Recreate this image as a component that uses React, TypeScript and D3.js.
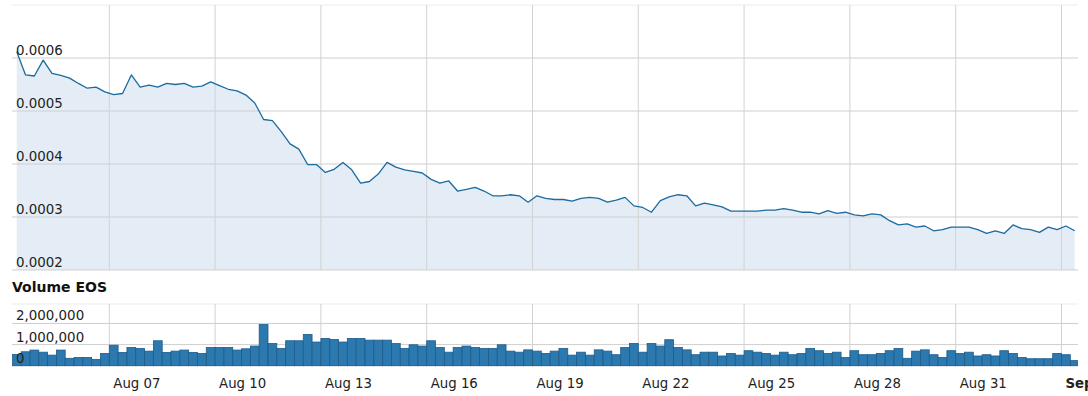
import React from "react";
import * as d3 from "d3";

// ---- data ----
const startTime = new Date(2018, 7, 4, 9, 0); // first 6-hour sample
const stepHours = 6;

const priceValues: number[] = [
  0.000612, 0.000568, 0.000566, 0.000596, 0.000571, 0.000567, 0.000562, 0.000552, 0.000543, 0.000545,
  0.000536, 0.000531, 0.000533, 0.000568, 0.000545, 0.000549, 0.000545, 0.000552, 0.00055, 0.000552,
  0.000545, 0.000547, 0.000555, 0.000548, 0.000541, 0.000538, 0.00053, 0.000515, 0.000484, 0.000482,
  0.000461, 0.000438, 0.000428, 0.000399, 0.000399, 0.000384, 0.00039, 0.000403, 0.000389, 0.000364,
  0.000367, 0.000381, 0.000403, 0.000394, 0.000389, 0.000386, 0.000383, 0.000371, 0.000364, 0.000368,
  0.000349, 0.000352, 0.000356, 0.000349, 0.00034, 0.00034, 0.000342, 0.00034, 0.000328, 0.00034,
  0.000335, 0.000333, 0.000333, 0.00033, 0.000335, 0.000337, 0.000335, 0.000328, 0.000332, 0.000337,
  0.000321, 0.000318, 0.000309, 0.000331, 0.000338, 0.000342, 0.00034, 0.000321, 0.000326, 0.000323,
  0.000319, 0.000311, 0.000311, 0.000311, 0.000311, 0.000313, 0.000313, 0.000316, 0.000313, 0.000309,
  0.000309, 0.000306, 0.000312, 0.000307, 0.000309, 0.000304, 0.000302, 0.000306, 0.000304, 0.000293,
  0.000285, 0.000287, 0.000281, 0.000283, 0.000274, 0.000276, 0.000281, 0.000281, 0.000281, 0.000276,
  0.000269, 0.000274, 0.000269, 0.000285, 0.000278, 0.000276, 0.000271, 0.000281, 0.000276, 0.000283,
  0.000274,
];

const volumeValues: number[] = [
  530000, 660000, 740000, 640000, 500000, 740000, 350000, 390000, 390000, 300000,
  580000, 970000, 630000, 860000, 820000, 690000, 1180000, 630000, 690000, 740000,
  630000, 580000, 860000, 860000, 860000, 740000, 800000, 930000, 1950000, 1050000,
  820000, 1180000, 1180000, 1480000, 1120000, 1290000, 1240000, 1120000, 1290000, 1290000,
  1210000, 1210000, 1210000, 1050000, 820000, 990000, 930000, 1180000, 860000, 640000,
  860000, 930000, 860000, 820000, 820000, 990000, 690000, 640000, 750000, 690000,
  580000, 690000, 820000, 500000, 640000, 500000, 750000, 690000, 520000, 860000,
  1050000, 640000, 1050000, 930000, 1230000, 860000, 750000, 520000, 640000, 640000,
  460000, 580000, 500000, 710000, 640000, 580000, 500000, 640000, 520000, 580000,
  820000, 710000, 580000, 640000, 390000, 710000, 520000, 520000, 580000, 710000,
  820000, 350000, 690000, 750000, 520000, 390000, 710000, 580000, 640000, 460000,
  520000, 460000, 710000, 580000, 390000, 330000, 330000, 330000, 580000, 520000,
  240000,
];

const priceTicks: number[] = [0.0002, 0.0003, 0.0004, 0.0005, 0.0006];
const volumeTicks: number[] = [0, 1000000, 2000000];
const dateTicks: Date[] = [
  new Date(2018, 7, 7), new Date(2018, 7, 10), new Date(2018, 7, 13), new Date(2018, 7, 16),
  new Date(2018, 7, 19), new Date(2018, 7, 22), new Date(2018, 7, 25), new Date(2018, 7, 28),
  new Date(2018, 7, 31), new Date(2018, 8, 3),
];
const volumeTitle = "Volume EOS";

// ---- layout ----
const W = 1088;
const H = 396;
const plotLeft = 12;
const plotRight = 1078;
const mainTop = 5;
const mainBottom = 270;
const volTop = 304;
const volBottom = 365.7;
const font = "'DejaVu Sans', Verdana, sans-serif";

export default function App() {
  const times = priceValues.map((_, i) => new Date(startTime.getTime() + i * stepHours * 3600000));

  const x = d3
    .scaleTime()
    .domain([new Date(2018, 7, 7), new Date(2018, 8, 3)])
    .range([109.3, 1061.5]);
  const y = d3.scaleLinear().domain([0.0002, 0.0007]).range([mainBottom, mainTop]);
  const yv = d3.scaleLinear().domain([0, 2920000]).range([volBottom, volTop]);

  const pts = priceValues.map((v, i) => ({ t: times[i], v }));
  const line = d3
    .line<{ t: Date; v: number }>()
    .x((d) => x(d.t))
    .y((d) => y(d.v));
  const area = d3
    .area<{ t: Date; v: number }>()
    .x((d) => x(d.t))
    .y0(mainBottom)
    .y1((d) => y(d.v));

  const fmtPrice = (v: number) => v.toFixed(4);
  const fmtVol = d3.format(",");
  const monthStart = (d: Date) => d.getMonth() !== 7;
  const fmtDate = d3.timeFormat("%b %d");
  const barW = 8.8;

  return (
    <div style={{ position: "absolute", left: 0, top: 0 }}>
      <svg width={W} height={H} style={{ display: "block", background: "#fff" }}>
        <defs>
          <clipPath id="plotClip">
            <rect x={plotLeft} y={0} width={plotRight - plotLeft} height={H} />
          </clipPath>
        </defs>

        {/* main chart */}
        <line x1={plotLeft} x2={plotRight} y1={mainTop} y2={mainTop} stroke="#ececec" strokeWidth={1} />
        <path d={area(pts) || ""} fill="#e4edf5" />
        {priceTicks.map((t) => (
          <line key={"pg" + t} x1={plotLeft} x2={plotRight} y1={y(t)} y2={y(t)} stroke="#cfcfcf" strokeWidth={1} />
        ))}
        {dateTicks.map((d, i) => (
          <line key={"vg" + i} x1={x(d)} x2={x(d)} y1={mainTop} y2={mainBottom} stroke="#d2d2d2" strokeWidth={1} />
        ))}
        <path d={line(pts) || ""} fill="none" stroke="#1b6aa0" strokeWidth={1.3} strokeLinejoin="round" />
        {priceTicks.map((t) => (
          <text key={"pl" + t} x={16} y={y(t) - 3} fontFamily={font} fontSize={13.4} fill="#222">
            {fmtPrice(t)}
          </text>
        ))}

        {/* volume chart */}
        <text x={12} y={292} fontFamily={font} fontSize={14} fontWeight="bold" fill="#111">
          {volumeTitle}
        </text>
        <line x1={plotLeft} x2={plotRight} y1={volTop} y2={volTop} stroke="#ececec" strokeWidth={1} />
        {volumeTicks.map((t) => (
          <line key={"vgl" + t} x1={plotLeft} x2={plotRight} y1={yv(t)} y2={yv(t)} stroke="#cfcfcf" strokeWidth={1} />
        ))}
        {dateTicks.map((d, i) => (
          <line key={"vvg" + i} x1={x(d)} x2={x(d)} y1={volTop} y2={volBottom} stroke="#d2d2d2" strokeWidth={1} />
        ))}
        <g clipPath="url(#plotClip)">
          {volumeValues.map((v, i) => (
            <rect
              key={"b" + i}
              x={x(times[i]) - barW / 2}
              y={yv(v)}
              width={barW}
              height={volBottom - yv(v)}
              fill="#2b79af"
              stroke="#1d5c8a"
              strokeWidth={0.8}
            />
          ))}
        </g>
        {volumeTicks.map((t) => (
          <text key={"vl" + t} x={16} y={yv(t) - 3} fontFamily={font} fontSize={13.4} fill="#222">
            {fmtVol(t)}
          </text>
        ))}

        {/* x axis labels */}
        {dateTicks.map((d, i) => (
          <text
            key={"xl" + i}
            x={x(d) + 4}
            y={388}
            fontFamily={font}
            fontSize={13.3}
            fontWeight={monthStart(d) ? "bold" : "normal"}
            fill="#222"
          >
            {fmtDate(d)}
          </text>
        ))}
      </svg>
    </div>
  );
}
